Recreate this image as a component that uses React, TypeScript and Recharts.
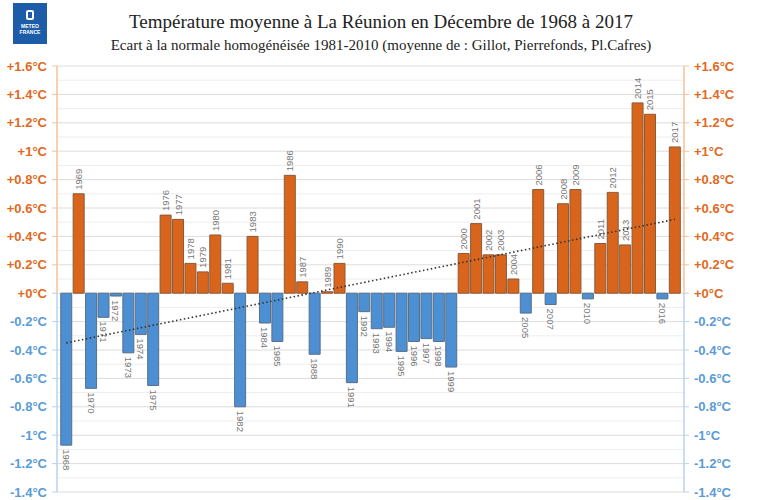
import React from "react";
import {
  Bar,
  CartesianGrid,
  Cell,
  ComposedChart,
  LabelList,
  Line,
  XAxis,
  YAxis,
} from "recharts";

// December mean temperature anomaly, La Réunion (vs 1981-2010 normal)
const YEARS = [
  "1968", "1969", "1970", "1971", "1972", "1973", "1974", "1975", "1976", "1977",
  "1978", "1979", "1980", "1981", "1982", "1983", "1984", "1985", "1986", "1987",
  "1988", "1989", "1990", "1991", "1992", "1993", "1994", "1995", "1996", "1997",
  "1998", "1999", "2000", "2001", "2002", "2003", "2004", "2005", "2006", "2007",
  "2008", "2009", "2010", "2011", "2012", "2013", "2014", "2015", "2016", "2017",
];

const ANOMALY = [
  -1.07, 0.7, -0.67, -0.17, -0.02, -0.42, -0.29, -0.65, 0.55, 0.52,
  0.21, 0.15, 0.41, 0.07, -0.8, 0.4, -0.21, -0.34, 0.83, 0.08,
  -0.43, 0.01, 0.21, -0.63, -0.13, -0.25, -0.24, -0.41, -0.34, -0.32,
  -0.34, -0.52, 0.28, 0.49, 0.27, 0.27, 0.1, -0.14, 0.73, -0.08,
  0.63, 0.73, -0.04, 0.35, 0.71, 0.34, 1.34, 1.26, -0.04, 1.03,
];

// linear trend, value at first and last year
const TREND_ENDS = [-0.35, 0.52];

const Y_TICKS = [-1.4, -1.2, -1, -0.8, -0.6, -0.4, -0.2, 0, 0.2, 0.4, 0.6, 0.8, 1, 1.2, 1.4, 1.6];
const MINOR_GRID = [-1.3, -1.1, -0.9, -0.7, -0.5, -0.3, -0.1, 0.1, 0.3, 0.5, 0.7, 0.9, 1.1, 1.3, 1.5];

const W = 762;
const H = 500;
const M_TOP = 66;
const M_BOTTOM = 8;
const Y_MIN = -1.4;
const Y_MAX = 1.6;
const ZERO_FRAC = Y_MAX / (Y_MAX - Y_MIN);

const ORANGE = "#D9651C";
const ORANGE_TXT = "#E2691D";
const ORANGE_LIGHT = "#F5C29C";
const BLUE = "#4C90D3";
const BLUE_TXT = "#5A9BD8";
const BLUE_LIGHT = "#B7D3EE";

const data = YEARS.map((year, i) => ({
  year,
  value: ANOMALY[i],
  trend: i === 0 ? TREND_ENDS[0] : i === YEARS.length - 1 ? TREND_ENDS[1] : null,
}));

const fmt = (v: number) => {
  const s = String(Math.round(v * 10) / 10);
  return (v >= 0 ? "+" : "") + s + "°C";
};

function makeTick(side: "left" | "right") {
  return (props: any) => {
    const { x, y, payload } = props;
    const v = payload.value as number;
    const pos = v >= 0;
    const tx = Number(x);
    const ty = Number(y);
    const l1 = side === "left" ? tx + 5 : tx - 5;
    const l2 = side === "left" ? tx + 10 : tx - 10;
    return (
      <g>
        <line x1={l1} x2={l2} y1={ty} y2={ty} stroke={v === 0 ? "#ccc" : pos ? ORANGE_LIGHT : BLUE_LIGHT} />
        <text
          x={tx}
          y={ty}
          textAnchor={side === "left" ? "end" : "start"}
          dominantBaseline="central"
          fill={pos ? ORANGE_TXT : BLUE_TXT}
          fontFamily="'Liberation Sans', Arial, sans-serif"
          fontWeight="bold"
          fontSize={13}
        >
          {fmt(v)}
        </text>
      </g>
    );
  };
}

function YearLabel(props: any) {
  const { x, y, width, height, value } = props;
  const i = YEARS.indexOf(String(value));
  const v = ANOMALY[i];
  const cx = Number(x) + Number(width) / 2;
  const top = Math.min(Number(y), Number(y) + Number(height));
  const bottom = Math.max(Number(y), Number(y) + Number(height));
  const ly = v >= 0 ? top - 4 : bottom + 4;
  return (
    <text
      x={cx}
      y={ly}
      transform={`rotate(${v >= 0 ? -90 : 90} ${cx} ${ly})`}
      textAnchor="start"
      dominantBaseline="central"
      fill="#777"
      fontFamily="'Liberation Sans', Arial, sans-serif"
      fontSize={9.5}
    >
      {value}
    </text>
  );
}

export default function App() {
  return (
    <div style={{ position: "absolute", left: 0, top: 0, width: W, height: H, background: "#fff" }}>
      <div
        style={{
          position: "absolute",
          left: 13,
          top: 3,
          width: 34,
          height: 41,
          background: "#1D5CA8",
          color: "#fff",
          fontFamily: "'Liberation Sans', Arial, sans-serif",
          fontWeight: "bold",
          fontSize: 5,
          textAlign: "center",
          lineHeight: "6px",
        }}
      >
        <div style={{ margin: "7px auto 3px", width: 8, height: 10, border: "2px solid #fff", borderRadius: 2, boxSizing: "border-box" }} />
        METEO
        <br />
        FRANCE
      </div>
      <div
        style={{
          position: "absolute",
          left: 0,
          width: W,
          top: 11,
          textAlign: "center",
          fontFamily: "'Liberation Serif', 'Times New Roman', serif",
          fontSize: 19,
          color: "#222",
        }}
      >
        Température moyenne à La Réunion en Décembre de 1968 à 2017
      </div>
      <div
        style={{
          position: "absolute",
          left: 0,
          width: W,
          top: 37,
          textAlign: "center",
          fontFamily: "'Liberation Serif', 'Times New Roman', serif",
          fontSize: 15,
          color: "#222",
        }}
      >
        Ecart à la normale homogénéisée 1981-2010 (moyenne de : Gillot, Pierrefonds, Pl.Cafres)
      </div>
      <ComposedChart
        width={W}
        height={H}
        data={data}
        margin={{ top: M_TOP, right: 0, bottom: M_BOTTOM, left: 0 }}
        barCategoryGap="6%"
      >
        <defs>
          <linearGradient id="axisGrad" gradientUnits="userSpaceOnUse" x1={0} x2={0} y1={M_TOP} y2={H - M_BOTTOM}>
            <stop offset={ZERO_FRAC} stopColor={ORANGE_LIGHT} />
            <stop offset={ZERO_FRAC} stopColor={BLUE_LIGHT} />
          </linearGradient>
        </defs>
        <CartesianGrid yAxisId="left" vertical={false} horizontalValues={MINOR_GRID} stroke="#EEEEEE" />
        <CartesianGrid yAxisId="left" vertical={false} horizontalValues={Y_TICKS} stroke="#DCDCDC" />
        <XAxis dataKey="year" hide padding={{ left: 3, right: 3 }} />
        <YAxis
          yAxisId="left"
          orientation="left"
          width={57}
          domain={[Y_MIN, Y_MAX]}
          ticks={Y_TICKS}
          interval={0}
          allowDataOverflow
          axisLine={{ stroke: "url(#axisGrad)", strokeWidth: 1.5 }}
          tickLine={false}
          tickSize={6}
          tickMargin={4}
          tick={makeTick("left")}
        />
        <YAxis
          yAxisId="right"
          orientation="right"
          width={78}
          domain={[Y_MIN, Y_MAX]}
          ticks={Y_TICKS}
          interval={0}
          allowDataOverflow
          axisLine={{ stroke: "url(#axisGrad)", strokeWidth: 1.5 }}
          tickLine={false}
          tickSize={6}
          tickMargin={4}
          tick={makeTick("right")}
        />
        <Bar dataKey="value" yAxisId="left" isAnimationActive={false} strokeWidth={1}>
          {data.map((d) => (
            <Cell
              key={d.year}
              fill={d.value >= 0 ? ORANGE : BLUE}
              stroke={d.value >= 0 ? "#8A5A3A" : "#5A6F85"}
            />
          ))}
          <LabelList dataKey="year" content={YearLabel} />
        </Bar>
        <Line
          dataKey="trend"
          yAxisId="left"
          stroke="#333"
          strokeWidth={1.6}
          strokeDasharray="1.5 2.5"
          dot={false}
          activeDot={false}
          connectNulls
          isAnimationActive={false}
        />
      </ComposedChart>
    </div>
  );
}
